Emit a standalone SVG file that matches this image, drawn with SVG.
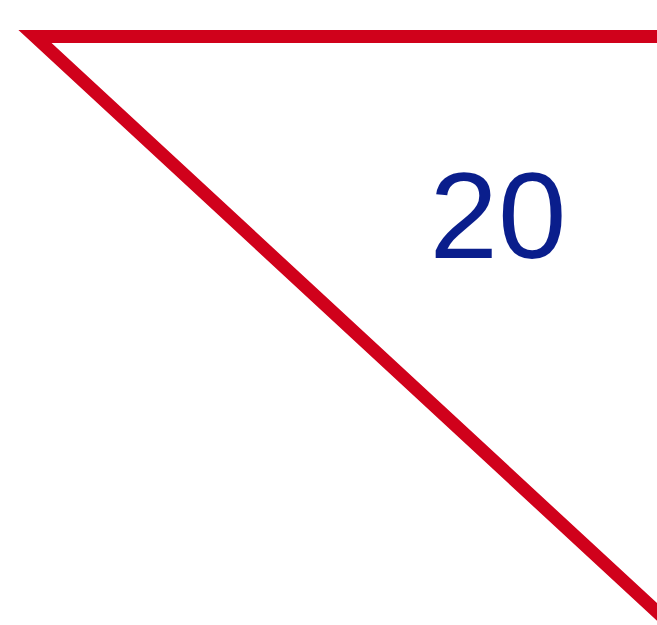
<svg xmlns="http://www.w3.org/2000/svg" width="657" height="625" viewBox="0 0 657 625">
<style>
.edge{fill:none;stroke:#d0011b;stroke-width:13;stroke-linejoin:miter;stroke-miterlimit:10}
.lbl{font-family:"Liberation Sans",Arial,sans-serif;font-size:123px;fill:#0a1e8c}
</style>
<rect width="657" height="625" fill="#ffffff"/>
<g id="connectors">
<polyline class="edge" points="670,36.5 35,36.5 670,624"/>
</g>
<g id="label-20">
<text class="lbl" x="498" y="258" text-anchor="middle">20</text>
</g>
</svg>
